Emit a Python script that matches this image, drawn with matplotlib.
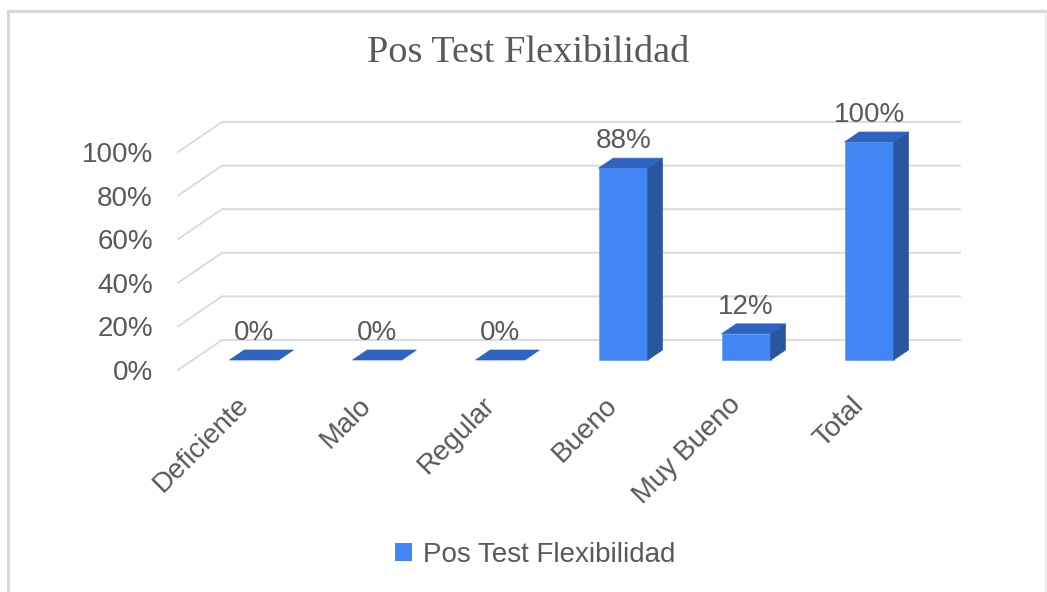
import matplotlib
matplotlib.use("Agg")
import matplotlib.pyplot as plt
from matplotlib.patches import Polygon, Rectangle
from matplotlib.lines import Line2D

categories = ["Deficiente", "Malo", "Regular", "Bueno", "Muy Bueno", "Total"]
values = [0, 0, 0, 88, 12, 100]
y_ticks = [0, 20, 40, 60, 80, 100]
y_tick_labels = ["0%", "20%", "40%", "60%", "80%", "100%"]
series_name = "Pos Test Flexibilidad"
title = "Pos Test Flexibilidad"

FRONT = "#4285f4"
TOP = "#2f63c2"
SIDE = "#2a56a0"
GRID = "#d9d9d9"
TEXT = "#595959"

W, H = 1047, 592
fig = plt.figure(figsize=(W / 100, H / 100), dpi=100)

# front plane of the 3d box, in pixels
px_left, px_right = 178, 916
px_bottom, px_top = 370, 152
ax = fig.add_axes([px_left / W, 1 - px_bottom / H,
                   (px_right - px_left) / W, (px_bottom - px_top) / H])
n = len(categories)
ax.set_xlim(0, n)
ax.set_ylim(0, 100)
for s in ax.spines.values():
    s.set_visible(False)

# depth offset of the back wall, in data units
DX = 44 / ((px_right - px_left) / n)
DY = 30 / ((px_bottom - px_top) / 100)

# gridlines: slant on the left side wall, then along the back wall
for v in y_ticks:
    ax.add_line(Line2D([0, DX, n + DX], [v, v + DY, v + DY],
                       color=GRID, lw=1.3, clip_on=False, zorder=1))

ax.set_yticks(y_ticks)
ax.set_yticklabels(y_tick_labels, fontsize=20, color=TEXT,
                   family="Liberation Sans")
ax.tick_params(axis="y", length=0, pad=18)
ax.set_xticks([])

bw = 0.4
dx, dy = DX / 3, DY / 3
for i, v in enumerate(values):
    x0 = i + 0.5 - bw / 2 + dx
    y0 = dy
    front = Rectangle((x0, y0), bw, v, facecolor=FRONT, edgecolor="#6fa2f7",
                      lw=0.6, clip_on=False, zorder=3)
    top = Polygon([(x0, y0 + v), (x0 + bw, y0 + v),
                   (x0 + bw + dx, y0 + v + dy), (x0 + dx, y0 + v + dy)],
                  closed=True, facecolor=TOP, edgecolor=TOP, lw=0.5,
                  clip_on=False, zorder=3)
    side = Polygon([(x0 + bw, y0), (x0 + bw + dx, y0 + dy),
                    (x0 + bw + dx, y0 + v + dy), (x0 + bw, y0 + v)],
                   closed=True, facecolor=SIDE, edgecolor=SIDE, lw=0.5,
                   clip_on=False, zorder=3)
    if v > 0:
        ax.add_patch(front)
        ax.add_patch(side)
    ax.add_patch(top)
    ax.annotate(f"{v}%", (x0 + bw / 2, y0 + v), xytext=(0, 27),
                textcoords="offset pixels", ha="center", va="center",
                fontsize=20, color=TEXT, family="Liberation Sans", zorder=4,
                annotation_clip=False)

# category labels along the front floor edge
for i, c in enumerate(categories):
    ax.annotate(c, (i + 0.5, 0), xytext=(-4, -22), textcoords="offset pixels",
                ha="right", va="top", rotation=45, rotation_mode="anchor",
                fontsize=20, color=TEXT, family="Liberation Sans",
                annotation_clip=False)

fig.text(528 / W, 1 - 53 / H, title, ha="center", va="center",
         fontsize=27.5, color=TEXT, family="Liberation Serif")

handle = Rectangle((0, 0), 1, 1, facecolor=FRONT)
fig.legend([handle], [series_name], loc="center",
           bbox_to_anchor=(535 / W, 1 - 555 / H), frameon=False,
           handlelength=0.6, handleheight=0.6, handletextpad=0.4,
           prop={"family": "Liberation Sans", "size": 20}, labelcolor=TEXT)

# chart area border
fig.add_artist(Line2D([8 / W, 8 / W], [0, 1 - 11 / H], transform=fig.transFigure,
                      color=GRID, lw=2.2))
fig.add_artist(Line2D([8 / W, 1045 / W], [1 - 11 / H, 1 - 11 / H],
                      transform=fig.transFigure, color=GRID, lw=2.2))
fig.add_artist(Line2D([1045 / W, 1045 / W], [0, 1 - 11 / H],
                      transform=fig.transFigure, color="#e6e6e6", lw=0.8))

fig.savefig("out.png", dpi=100)
